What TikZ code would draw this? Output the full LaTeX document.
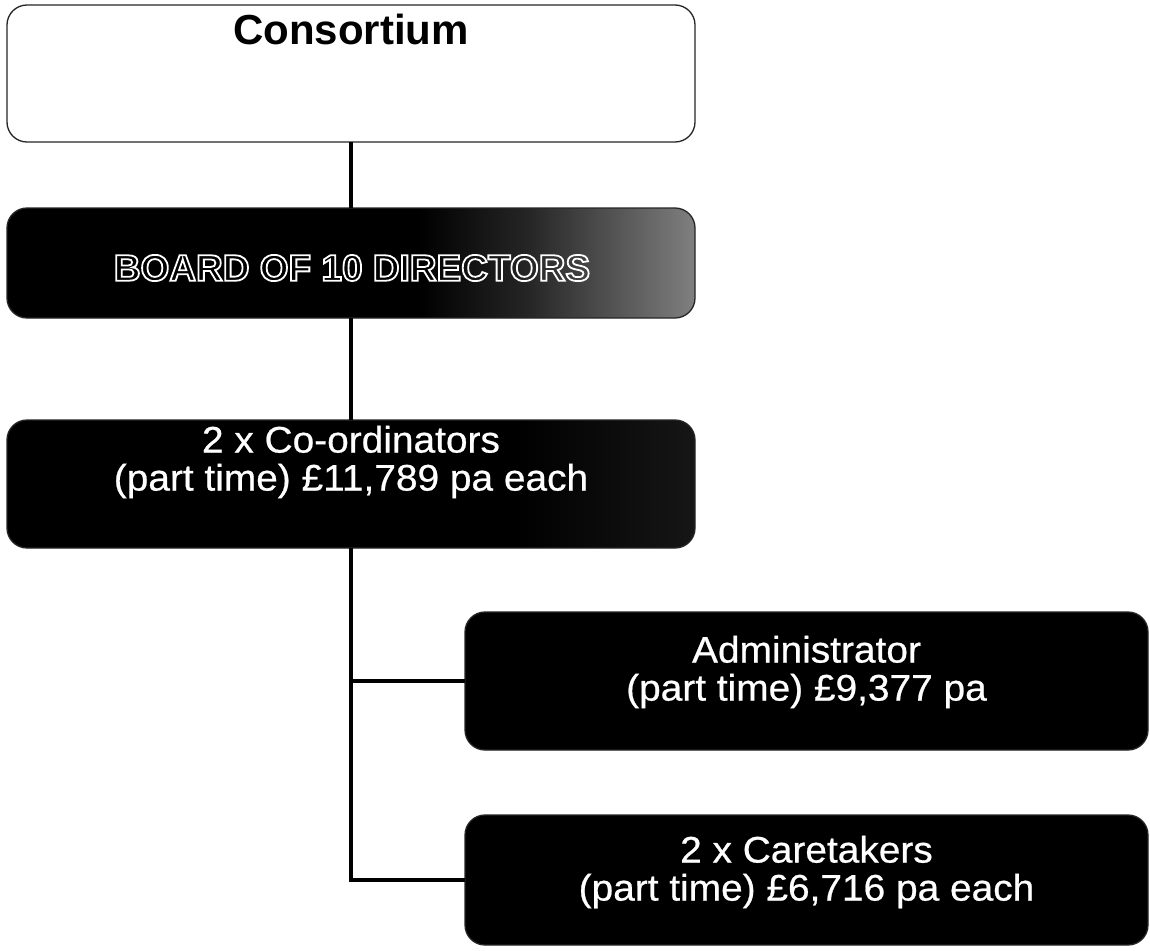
\documentclass[tikz,border=0pt]{standalone}
\usepackage{fontspec}
\setmainfont{Liberation Sans}
\newfontfamily\widefont[FakeStretch=1.05,FakeBold=0.6]{Liberation Sans}
\pgfdeclarehorizontalshading{boardshade}{100bp}{color(0bp)=(black); color(55bp)=(black); color(63bp)=(black!85); color(75bp)=(black!50); color(100bp)=(black!60)}
\pgfdeclarehorizontalshading{coordshade}{100bp}{color(0bp)=(black); color(62bp)=(black); color(80bp)=(black!88); color(100bp)=(black!82)}
\newcommand{\outlinetext}[1]{\special{pdf:literal direct 1 Tr 1 1 1 RG 1.8 w}#1\special{pdf:literal direct 0 Tr}}
\begin{document}
\begin{tikzpicture}[x=1pt,y=-1pt,
  orgbox/.style={draw=black!85, line width=1.3pt, rounded corners=20pt, inner sep=0pt, outer sep=0pt},
  darkbox/.style={orgbox, fill=black},
  lbl/.style={text=white, align=center, font=\widefont\fontsize{37}{38}\selectfont, inner sep=0pt},
  link/.style={line width=4.5pt, black}]
\useasboundingbox (0,0) rectangle (1150,950);
\fill[white] (0,0) rectangle (1150,950);
% boxes
\node[orgbox, fill=white, minimum width=688pt, minimum height=137pt] (cons) at (351,73.5) {};
\node[orgbox, shading=boardshade, minimum width=688pt, minimum height=110pt] (board) at (351,263) {};
\node[orgbox, shading=coordshade, minimum width=688pt, minimum height=128pt] (coord) at (351,484) {};
\node[darkbox, minimum width=683pt, minimum height=138pt] (admin) at (806.5,681) {};
\node[darkbox, minimum width=683pt, minimum height=130pt] (care) at (806.5,880) {};
% connectors
\draw[link] (cons.south) -- (board.north);
\draw[link] (board.south) -- (coord.north);
\draw[link] (coord.south) |- (admin.west);
\draw[link] (coord.south) |- (care.west);
% texts
\node[font=\bfseries\fontsize{42}{44}\selectfont, inner sep=0pt] (consT) at (351,29) {Consortium};
\node[font=\bfseries\fontsize{37}{40}\selectfont, text=white, inner sep=0pt] (boardT) at (352,268) {\outlinetext{BOARD OF 10 DIRECTORS}};
\node[lbl] (coordT) at (351,462) {2 x Co-ordinators\\(part time) £11,789 pa each};
\node[lbl] (adminT) at (806.5,672) {Administrator\\(part time) £9,377 pa};
\node[lbl] (careT) at (806.5,872) {2 x Caretakers\\(part time) £6,716 pa each};
\end{tikzpicture}
\end{document}
